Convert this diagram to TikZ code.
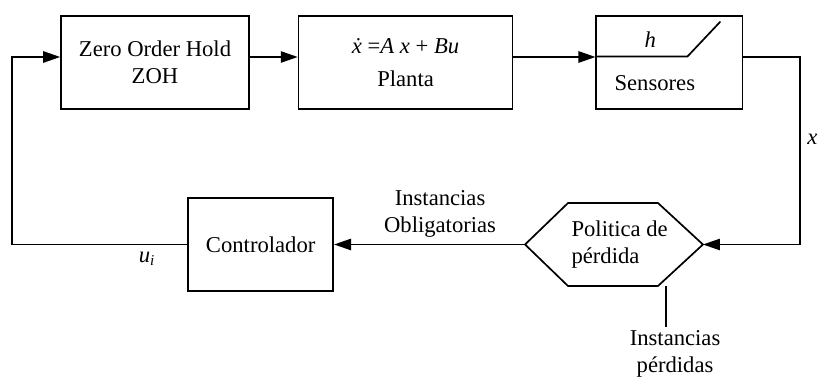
\documentclass[tikz,border=0pt]{standalone}
\usepackage{fontspec}
\setmainfont{Liberation Serif}
\usepackage{tikz}
\usetikzlibrary{arrows.meta, positioning, calc}
\tikzset{
  % Plain block
  block/.style={
    rectangle, draw, line width=0.9pt,
    minimum height=49.3pt, inner sep=2pt,
    align=center
  },
  % Loss policy area (outline drawn below)
  policy/.style={
    rectangle, minimum width=94.3pt, minimum height=44pt,
    inner sep=2pt, outer sep=0pt, align=left, xshift=3pt
  },
  % Arrow style
  arrow/.style={
    -{Triangle[length=9pt,width=6pt]}, line width=0.9pt
  },
  % Plain line
  wire/.style={line width=0.9pt}
}
\begin{document}
\begin{tikzpicture}[
  x=0.53pt, y=-0.53pt,
  font=\fontsize{12}{14.5}\selectfont
]
\useasboundingbox (0,0) rectangle (820,378);

\node[block, minimum width=99.6pt] (zoh) at (155,62.5)
  {Zero Order Hold\\ZOH};
\node[block, minimum width=113.4pt, right=25.4pt of zoh] (planta)
  {\textit{\.x} =\textit{A x} + \textit{Bu}\\[3pt]Planta};
\node[block, minimum width=77.4pt, right=43.5pt of planta] (sens) {};
\node (sens_h) at ($(sens.center)+(-19,-22.5)$) {\textit{h}};
\node (sens_txt) at ($(sens.center)+(-14.5,20.5)$) {Sensores};

\node[policy] (pol_txt) at (614,244.5) {Politica de\\pérdida};
\node[policy, xshift=-3pt, minimum width=94.3pt] (pol) at (614,244.5) {};
\draw[wire, line join=miter] (pol.west)
  -- ($(pol.north west)+(43,0)$) -- ($(pol.north east)+(-45,0)$)
  -- (pol.east)
  -- ($(pol.south east)+(-45,0)$) -- ($(pol.south west)+(43,0)$)
  -- cycle;
\node[block, minimum width=76.9pt, left=101.2pt of pol] (ctrl)
  {Controlador};

% ── lost instances branch ───────────────────────────────────
\coordinate (loss_top) at ($(pol.south)+(52,0)$);
\coordinate (loss_end) at ($(loss_top)+(0,41)$);
\node[below=-1.5pt of loss_end, xshift=4.8pt, align=center,
      font=\fontsize{12}{14}\selectfont] (loss_txt)
  {Instancias\\pérdidas};
\coordinate (fb_left) at (12,0);

\draw[arrow] ($(zoh.east)+(0,-5.5)$)    -- ($(planta.west)+(0,-5.5)$);
\draw[arrow] ($(planta.east)+(0,-5.5)$) -- ($(sens.west)+(0,-5.5)$);
\draw[wire]  ($(sens.west)+(0,-6)$) -- ++(92,0) -- ++(33,-35);
\draw[arrow] ($(sens.east)+(0,-5.5)$) -- ++(57,0)
  |- node[pos=0.22, right=0pt]{\textit{x}} (pol.east);
\draw[arrow] (pol.west) -- node[pos=0.445, above=0pt, align=center]
  {Instancias\\Obligatorias} (ctrl.east);
\draw[arrow] (ctrl.west) -- node[pos=0.23, below]
  {\textit{u}\textsubscript{\textit{i}}} (ctrl.west -| fb_left)
  |- ($(zoh.west)+(0,-5.5)$);
\draw[wire]  (loss_top) -- (loss_end);

\end{tikzpicture}
\end{document}
